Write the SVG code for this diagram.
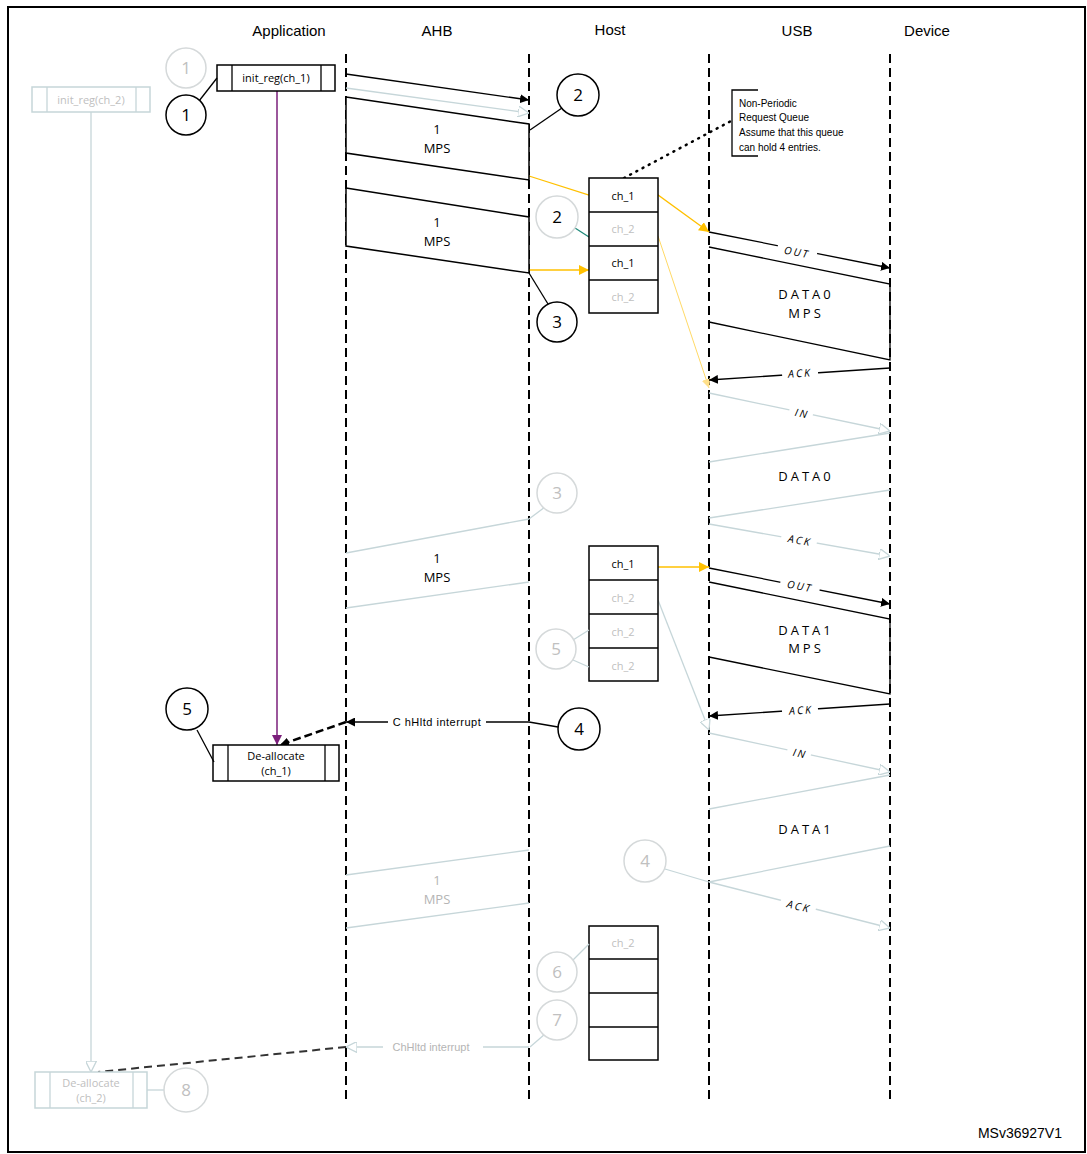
<svg xmlns="http://www.w3.org/2000/svg" width="1087" height="1154" viewBox="0 0 1087 1154">
<defs>
<style>
text{font-family:"Liberation Sans",Arial,sans-serif;}
.hd{font-size:15px;text-anchor:middle;fill:#000}
.t{font-family:"Open Sans","Noto Sans",sans-serif;font-size:11px;text-anchor:middle}
.tb{font-family:"Open Sans","Noto Sans",sans-serif;font-size:13px;text-anchor:middle;fill:#000}
.tg{font-family:"Open Sans","Noto Sans",sans-serif;font-size:13px;text-anchor:middle;fill:#b5b5b5}
.sp{font-family:"Open Sans","Noto Sans",sans-serif;font-size:13px;letter-spacing:3px;text-anchor:middle;fill:#000}
.lab{font-family:"Open Sans","Noto Sans",sans-serif;font-size:10.5px;letter-spacing:2px;text-anchor:middle;font-style:italic}
.life{stroke:#000;stroke-width:2;stroke-dasharray:9,5;fill:none}
.k{stroke:#000;stroke-width:1.3;fill:none}
.g{stroke:#c6d6d9;stroke-width:1.3;fill:none}
.box{fill:#fff;stroke:#000;stroke-width:1.5}
.gbox{fill:#fff;stroke:#c6d6d9;stroke-width:1.5}
.c{fill:#fff;stroke:#000;stroke-width:1.5}
.gc{fill:#fff;stroke:#d5d9da;stroke-width:1.5}
.cn{font-family:"Open Sans","Noto Sans",sans-serif;font-size:17px;text-anchor:middle;fill:#000}
.gcn{font-family:"Open Sans","Noto Sans",sans-serif;font-size:17px;text-anchor:middle;fill:#c0c0c0}
</style>
<marker id="ak" viewBox="0 0 10 10" refX="10" refY="5" markerWidth="9" markerHeight="9" orient="auto" markerUnits="userSpaceOnUse"><path d="M0,0L10,5L0,10z" fill="#000"/></marker>
<marker id="ag" viewBox="0 0 10 10" refX="10" refY="5" markerWidth="11" markerHeight="11" orient="auto" markerUnits="userSpaceOnUse"><path d="M0,0L10,5L0,10z" fill="#fff" stroke="#c6d6d9" stroke-width="1.2"/></marker>
<marker id="ay" viewBox="0 0 10 10" refX="10" refY="5" markerWidth="10" markerHeight="10" orient="auto" markerUnits="userSpaceOnUse"><path d="M0,0L10,5L0,10z" fill="#ffc000"/></marker>
<marker id="ayl" viewBox="0 0 10 10" refX="10" refY="5" markerWidth="9" markerHeight="9" orient="auto" markerUnits="userSpaceOnUse"><path d="M0,0L10,5L0,10z" fill="#ffe08a"/></marker>
<marker id="ap" viewBox="0 0 10 10" refX="10" refY="5" markerWidth="10" markerHeight="10" orient="auto" markerUnits="userSpaceOnUse"><path d="M0,0L10,5L0,10z" fill="#7b1f7b"/></marker>
</defs>
<rect x="0" y="0" width="1087" height="1154" fill="#fff"/>
<rect x="8" y="7" width="1077" height="1145" fill="none" stroke="#000" stroke-width="2"/>

<g id="headers">
<text class="hd" x="289" y="36">Application</text>
<text class="hd" x="437" y="36">AHB</text>
<text class="hd" x="610" y="35">Host</text>
<text class="hd" x="797" y="36">USB</text>
<text class="hd" x="927" y="36">Device</text>
<text x="1062" y="1138" font-size="14" text-anchor="end" fill="#000">MSv36927V1</text>
</g>

<g id="lifelines">
<line class="life" x1="346" y1="54" x2="346" y2="1103"/>
<line class="life" x1="529" y1="54" x2="529" y2="1103"/>
<line class="life" x1="709" y1="54" x2="709" y2="1103"/>
<line class="life" x1="890" y1="54" x2="890" y2="1103"/>
</g>

<g id="connectors">
<line x1="277" y1="91" x2="277" y2="745" stroke="#7b1f7b" stroke-width="1.5" marker-end="url(#ap)"/>
<line class="g" x1="91" y1="112" x2="91" y2="1072" marker-end="url(#ag)"/>
<line class="k" x1="346" y1="74" x2="529" y2="100" marker-end="url(#ak)"/>
<line class="g" x1="346" y1="88" x2="529" y2="113" marker-end="url(#ag)"/>
<polyline points="529,176 589,195 658,195 709,232" fill="none" stroke="#ffc000" stroke-width="1.3" marker-end="url(#ay)"/>
<line x1="529" y1="270" x2="589" y2="270" stroke="#ffc000" stroke-width="1.3" marker-end="url(#ay)"/>
<polyline points="589,236 658,236 709,388" fill="none" stroke="#ffd966" stroke-width="1" marker-end="url(#ayl)"/>
<line x1="575" y1="228" x2="589" y2="237" stroke="#1f8a7a" stroke-width="1.3"/>
<line x1="624" y1="178" x2="731" y2="121" stroke="#000" stroke-width="2.5" stroke-dasharray="1,6" stroke-linecap="round"/>
<line x1="658" y1="567" x2="709" y2="567" stroke="#ffc000" stroke-width="1.3" marker-end="url(#ay)"/>
<line class="g" x1="658" y1="600" x2="709" y2="730" marker-end="url(#ag)"/>

<path class="k" d="M709,232 L890,268" marker-end="url(#ak)"/>
<rect x="777" y="245" width="40" height="13" fill="#fff" transform="rotate(11.2 797 252)"/>
<text class="lab" x="797" y="256" transform="rotate(11.2 797 252)">OUT</text>
<path class="k" d="M890,368 L709,380" marker-end="url(#ak)"/>
<rect x="782" y="367" width="36" height="12" fill="#fff" transform="rotate(-3.8 799 373)"/>
<text class="lab" x="800" y="377" transform="rotate(-3.8 799 373)" font-style="normal">ACK</text>
<path class="g" d="M709,393 L890,431" marker-end="url(#ag)"/>
<rect x="789" y="407" width="24" height="12" fill="#fff" transform="rotate(11.8 801 413)"/>
<text class="lab" x="802" y="417" fill="#000" transform="rotate(11.8 801 413)">IN</text>
<path class="g" d="M709,524 L890,556" marker-end="url(#ag)"/>
<rect x="781" y="534" width="36" height="12" fill="#fff" transform="rotate(10 799 540)"/>
<text class="lab" x="800" y="544" transform="rotate(10 799 540)">ACK</text>

<path class="k" d="M709,568 L890,604" marker-end="url(#ak)"/>
<rect x="780" y="580" width="40" height="13" fill="#fff" transform="rotate(11.2 800 586)"/>
<text class="lab" x="800" y="590" transform="rotate(11.2 800 586)">OUT</text>
<path class="k" d="M890,704 L709,716" marker-end="url(#ak)"/>
<rect x="782" y="704" width="36" height="12" fill="#fff" transform="rotate(-3.8 800 710)"/>
<text class="lab" x="801" y="714" transform="rotate(-3.8 800 710)" font-style="normal">ACK</text>
<path class="g" d="M709,733 L890,772" marker-end="url(#ag)"/>
<rect x="787" y="747" width="24" height="12" fill="#fff" transform="rotate(12 799 753)"/>
<text class="lab" x="800" y="757" transform="rotate(12 799 753)">IN</text>
<path class="g" d="M709,882 L890,928" marker-end="url(#ag)"/>
<rect x="780" y="900" width="36" height="12" fill="#fff" transform="rotate(14 798 906)"/>
<text class="lab" x="799" y="910" transform="rotate(14 798 906)">ACK</text>

<line class="k" x1="529" y1="722" x2="346" y2="722" marker-end="url(#ak)"/>
<rect x="388" y="715" width="98" height="13" fill="#fff"/>
<text x="437" y="726" font-size="11" font-family="Open Sans,sans-serif" text-anchor="middle" letter-spacing="0.5">C hHltd interrupt</text>
<line x1="346" y1="722" x2="280" y2="745" stroke="#000" stroke-width="2.5" stroke-dasharray="8,4" marker-end="url(#ak)"/>
<line class="g" x1="529" y1="1047" x2="346" y2="1047" marker-end="url(#ag)"/>
<rect x="383" y="1040" width="100" height="13" fill="#fff"/>
<text x="431" y="1051" font-size="11" font-family="Open Sans,sans-serif" text-anchor="middle" fill="#b5b5b5">ChHltd interrupt</text>
<line x1="346" y1="1047" x2="98" y2="1072" stroke="#333" stroke-width="2" stroke-dasharray="8,5"/>
</g>

<g id="ahb-packets">
<polygon points="346,97 529,124 529,180 346,153" fill="#fff" stroke="#000" stroke-width="1.5"/>
<text class="tb" x="437" y="134">1</text><text class="tb" x="437" y="153">MPS</text>
<polygon points="346,188 529,217 529,273 346,246" fill="#fff" stroke="#000" stroke-width="1.5"/>
<text class="tb" x="437" y="227">1</text><text class="tb" x="437" y="246">MPS</text>
<line class="g" x1="346" y1="553" x2="529" y2="519"/><line class="g" x1="346" y1="608" x2="529" y2="582"/>
<text class="tb" x="437" y="563">1</text><text class="tb" x="437" y="582">MPS</text>
<line class="g" x1="346" y1="875" x2="529" y2="850"/><line class="g" x1="346" y1="928" x2="529" y2="903"/>
<text class="tg" x="437" y="885">1</text><text class="tg" x="437" y="904">MPS</text>
</g>

<g id="usb-packets">
<polyline class="k" points="709,247 890,284 890,360 709,322" stroke-width="1.5"/>
<text class="sp" x="806" y="299">DATA0</text><text class="sp" x="806" y="318">MPS</text>
<polyline class="g" points="709,462 890,433"/><polyline class="g" points="709,518 890,490"/>
<text class="sp" x="806" y="481">DATA0</text>
<polyline class="k" points="709,582 890,619 890,694 709,657" stroke-width="1.5"/>
<text class="sp" x="806" y="635">DATA1</text><text class="sp" x="806" y="653">MPS</text>
<polyline class="g" points="709,809 890,775"/><polyline class="g" points="709,882 890,846"/>
<text class="sp" x="806" y="834">DATA1</text>
</g>

<g id="app-init1">
<rect class="box" x="217" y="65" width="118" height="26"/>
<line class="k" x1="232" y1="65" x2="232" y2="91"/><line class="k" x1="321" y1="65" x2="321" y2="91"/>
<text class="t" x="276" y="82">init_reg(ch_1)</text>
</g>
<g id="app-init2">
<rect class="gbox" x="32" y="87" width="118" height="25"/>
<line class="g" x1="47" y1="87" x2="47" y2="112"/><line class="g" x1="136" y1="87" x2="136" y2="112"/>
<text class="t" x="91" y="104" fill="#c0c0c0">init_reg(ch_2)</text>
</g>
<g id="app-dealloc1">
<rect class="box" x="213" y="745" width="126" height="36"/>
<line class="k" x1="228" y1="745" x2="228" y2="781"/><line class="k" x1="325" y1="745" x2="325" y2="781"/>
<text class="t" x="276" y="760">De-allocate</text><text class="t" x="276" y="775">(ch_1)</text>
</g>
<g id="app-dealloc2">
<rect class="gbox" x="35" y="1072" width="112" height="36"/>
<line class="g" x1="50" y1="1072" x2="50" y2="1108"/><line class="g" x1="133" y1="1072" x2="133" y2="1108"/>
<text class="t" x="91" y="1087" fill="#c0c0c0">De-allocate</text><text class="t" x="91" y="1102" fill="#c0c0c0">(ch_2)</text>
</g>

<g id="queue1">
<rect class="box" x="589" y="178" width="69" height="135"/>
<line class="k" x1="589" y1="212" x2="658" y2="212"/><line class="k" x1="589" y1="246" x2="658" y2="246"/><line class="k" x1="589" y1="280" x2="658" y2="280"/>
<text class="t" x="623" y="200">ch_1</text><text class="t" x="623" y="233" fill="#c0c0c0">ch_2</text>
<text class="t" x="623" y="267">ch_1</text><text class="t" x="623" y="301" fill="#c0c0c0">ch_2</text>
</g>
<g id="queue2">
<rect class="box" x="589" y="546" width="69" height="135"/>
<line class="k" x1="589" y1="580" x2="658" y2="580"/><line class="k" x1="589" y1="614" x2="658" y2="614"/><line class="k" x1="589" y1="648" x2="658" y2="648"/>
<text class="t" x="623" y="568">ch_1</text><text class="t" x="623" y="602" fill="#c0c0c0">ch_2</text>
<text class="t" x="623" y="636" fill="#c0c0c0">ch_2</text><text class="t" x="623" y="670" fill="#c0c0c0">ch_2</text>
</g>
<g id="queue3">
<rect class="box" x="589" y="926" width="69" height="134"/>
<line class="k" x1="589" y1="959" x2="658" y2="959"/><line class="k" x1="589" y1="993" x2="658" y2="993"/><line class="k" x1="589" y1="1027" x2="658" y2="1027"/>
<text class="t" x="623" y="947" fill="#c0c0c0">ch_2</text>
</g>

<g id="note">
<polyline class="k" points="758,90 732,90 732,156 758,156"/>
<g font-family="'Open Sans','Noto Sans',sans-serif" font-size="10" fill="#000">
<text x="739" y="107">Non-Periodic</text><text x="739" y="121">Request Queue</text>
<text x="739" y="136">Assume that this queue</text><text x="739" y="151">can hold 4 entries.</text>
</g>
</g>

<g id="callouts">
<circle class="gc" cx="186" cy="68" r="20"/><text class="gcn" x="186" y="74">1</text>
<line class="k" x1="199" y1="101" x2="217" y2="78"/>
<circle class="c" cx="186" cy="115" r="20"/><text class="cn" x="186" y="121">1</text>
<line class="k" x1="562" y1="108" x2="530" y2="130"/>
<circle class="c" cx="578" cy="95" r="21"/><text class="cn" x="578" y="101">2</text>
<circle class="gc" cx="557" cy="217" r="21"/><text class="cn" x="557" y="223">2</text>
<line class="k" x1="548" y1="304" x2="529" y2="273"/>
<circle class="c" cx="557" cy="322" r="20"/><text class="cn" x="557" y="328">3</text>
<line class="g" x1="545" y1="507" x2="529" y2="519"/>
<circle class="gc" cx="557" cy="493" r="20"/><text class="gcn" x="557" y="499">3</text>
<line class="g" x1="573" y1="640" x2="589" y2="630"/><line class="g" x1="573" y1="660" x2="589" y2="667"/>
<circle class="gc" cx="556" cy="649" r="20"/><text class="gcn" x="556" y="655">5</text>
<line class="k" x1="197" y1="730" x2="214" y2="762"/>
<circle class="c" cx="187" cy="709" r="21"/><text class="cn" x="187" y="715">5</text>
<line class="k" x1="558" y1="727" x2="529" y2="722"/>
<circle class="c" cx="579" cy="729" r="21"/><text class="cn" x="579" y="735">4</text>
<line class="g" x1="665" y1="869" x2="709" y2="882"/>
<circle class="gc" cx="645" cy="861" r="21"/><text class="gcn" x="645" y="867">4</text>
<line class="g" x1="573" y1="960" x2="589" y2="944"/>
<circle class="gc" cx="557" cy="972" r="20"/><text class="gcn" x="557" y="978">6</text>
<line class="g" x1="545" y1="1034" x2="530" y2="1047"/>
<circle class="gc" cx="557" cy="1020" r="20"/><text class="gcn" x="557" y="1026">7</text>
<line class="g" x1="147" y1="1090" x2="164" y2="1090"/>
<circle class="gc" cx="186" cy="1090" r="22"/><text class="gcn" x="186" y="1096">8</text>
</g>
</svg>
